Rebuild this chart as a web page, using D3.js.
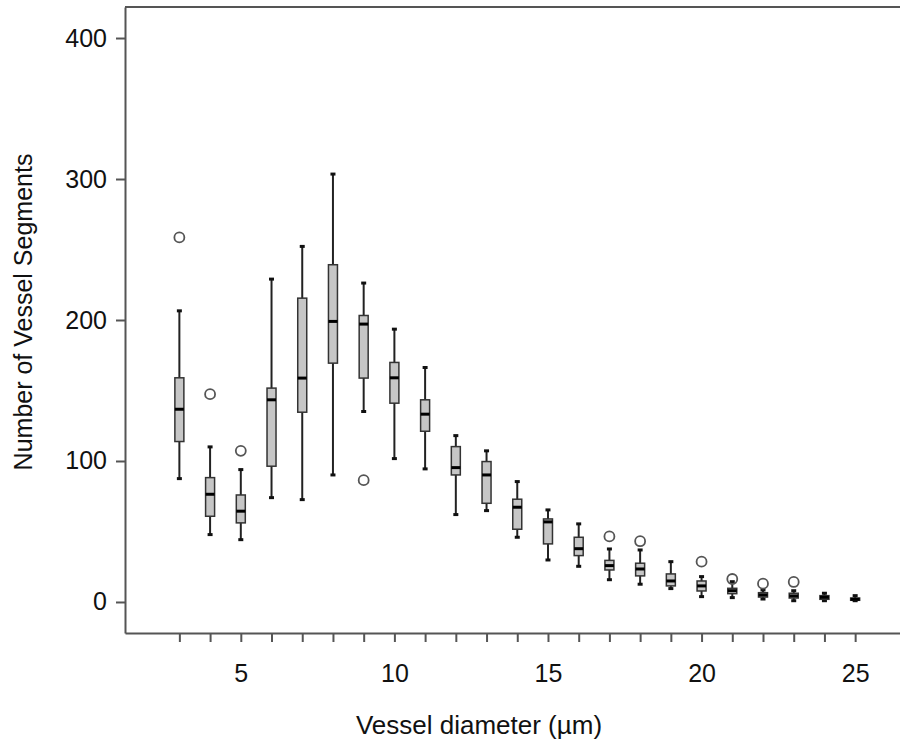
<!DOCTYPE html>
<html>
<head>
<meta charset="utf-8">
<script src="https://cdn.jsdelivr.net/npm/d3@7"></script>
<style>
  body { margin: 0; background: #fff; }
  svg { display: block; font-family: "Liberation Sans", Arial, sans-serif; }
</style>
</head>
<body>
<svg id="chart"></svg>
<script>
// vessel diameter (um) and the box statistics
const diameters   = [3, 4, 5, 6, 7, 8, 9, 10, 11, 12, 13, 14, 15, 16, 17, 18, 19, 20, 21, 22, 23, 24, 25];
const whiskerLow  = [87.5, 47.8, 44.2, 74, 72.6, 90.1, 135.1, 101.7, 94.4, 62, 64.8, 45.9, 29.8, 25.3, 15.8, 12.6, 9.5, 3.8, 3.1, 2.1, 0.9, 0.9, 0.9];
const q1          = [113.8, 60.8, 56.1, 96.3, 134.6, 169.4, 158.8, 141, 121.1, 90.1, 70, 51.6, 41.2, 32.9, 22.7, 18.5, 11.4, 7.8, 5.9, 3.5, 2.8, 1.9, 1.2];
const medians     = [136.7, 76.4, 64.4, 143.4, 158.8, 199, 197.1, 159, 133.2, 95.3, 90.1, 67.2, 56.8, 37.8, 25.8, 23.4, 14.9, 11.4, 8.0, 5.0, 4.3, 3.3, 1.9];
const q3          = [159, 88.2, 75.9, 151.7, 215.5, 239.2, 203.2, 169.9, 143.4, 110.2, 99.6, 72.9, 58.9, 45.9, 29.5, 27.5, 19.9, 14.9, 9.7, 6.6, 6.2, 4.5, 2.8];
const whiskerHigh = [206.5, 110, 93.9, 229, 252.2, 303.5, 226.2, 193.5, 166.3, 118, 107.2, 85.4, 65.3, 55.4, 37.6, 36.9, 28.6, 18, 14.4, 8.5, 8.0, 6.2, 4.5];
const outlierX    = [3, 4, 5, 9, 17, 18, 20, 21, 22, 23];
const outlierY    = [258.6, 147.4, 107.2, 86.4, 46.5, 43.1, 28.6, 16.3, 13, 14.2];

const yTicks = [0, 100, 200, 300, 400];
const xTicks = d3.range(3, 26);

const width = 900, height = 747;
const svg = d3.select('#chart').attr('width', width).attr('height', height);

const plot = { left: 125, right: 900, top: 7, bottom: 633 };

const x = d3.scaleLinear().domain([1.23, 26.46]).range([plot.left, plot.right]);
const y = d3.scaleLinear().domain([-22, 422]).range([plot.bottom, plot.top]);

const axisColor = '#555';

// y axis
const yAxis = svg.append('g')
  .attr('transform', `translate(${plot.left},0)`)
  .call(d3.axisLeft(y).tickValues(yTicks).tickSize(9).tickSizeOuter(0).tickPadding(9));

// x axis
const xAxis = svg.append('g')
  .attr('transform', `translate(0,${plot.bottom})`)
  .call(d3.axisBottom(x).tickValues(xTicks).tickSize(9).tickSizeOuter(0).tickPadding(22)
    .tickFormat(d => d % 5 === 0 ? d : ''));

[yAxis, xAxis].forEach(g => {
  g.selectAll('.domain').attr('stroke', axisColor).attr('stroke-width', 2);
  g.selectAll('.tick line').attr('stroke', axisColor).attr('stroke-width', 2);
  g.selectAll('.tick text').attr('fill', '#111').style('font-size', '25px');
});

// top border of the frame
svg.append('line')
  .attr('x1', plot.left).attr('x2', plot.right)
  .attr('y1', plot.top).attr('y2', plot.top)
  .attr('stroke', axisColor).attr('stroke-width', 2);

// axis titles
svg.append('text')
  .attr('x', 479).attr('y', 734)
  .attr('text-anchor', 'middle')
  .attr('fill', '#111')
  .style('font-size', '26px')
  .text('Vessel diameter (µm)');

svg.append('text')
  .attr('transform', 'translate(32,312) rotate(-90)')
  .attr('text-anchor', 'middle')
  .attr('fill', '#111')
  .style('font-size', '25px')
  .text('Number  of Vessel Segments');

// boxes
const boxW = 9, capW = 5;
const boxes = diameters.map((d, i) => ({
  d, lo: whiskerLow[i], q1: q1[i], med: medians[i], q3: q3[i], hi: whiskerHigh[i]
}));

const g = svg.append('g');

const box = g.selectAll('g.box').data(boxes).join('g').attr('class', 'box');

// whiskers
box.append('line')
  .attr('x1', b => x(b.d)).attr('x2', b => x(b.d))
  .attr('y1', b => y(b.hi)).attr('y2', b => y(b.lo))
  .attr('stroke', '#222').attr('stroke-width', 2);

// whisker caps
['hi', 'lo'].forEach(k => {
  box.append('line')
    .attr('x1', b => x(b.d) - capW / 2).attr('x2', b => x(b.d) + capW / 2)
    .attr('y1', b => y(b[k])).attr('y2', b => y(b[k]))
    .attr('stroke', '#111').attr('stroke-width', 3);
});

// interquartile box
box.append('rect')
  .attr('x', b => x(b.d) - boxW / 2)
  .attr('width', boxW)
  .attr('y', b => y(b.q3))
  .attr('height', b => Math.max(1, y(b.q1) - y(b.q3)))
  .attr('fill', '#c6c6c6')
  .attr('stroke', '#333')
  .attr('stroke-width', 1.5);

// median
box.append('line')
  .attr('x1', b => x(b.d) - boxW / 2).attr('x2', b => x(b.d) + boxW / 2)
  .attr('y1', b => y(b.med)).attr('y2', b => y(b.med))
  .attr('stroke', '#000').attr('stroke-width', 3);

// outliers
g.selectAll('circle.outlier')
  .data(outlierX.map((d, i) => ({ d, v: outlierY[i] })))
  .join('circle')
  .attr('class', 'outlier')
  .attr('cx', o => x(o.d))
  .attr('cy', o => y(o.v))
  .attr('r', 5)
  .attr('fill', 'none')
  .attr('stroke', '#555')
  .attr('stroke-width', 1.8);
</script>
</body>
</html>
